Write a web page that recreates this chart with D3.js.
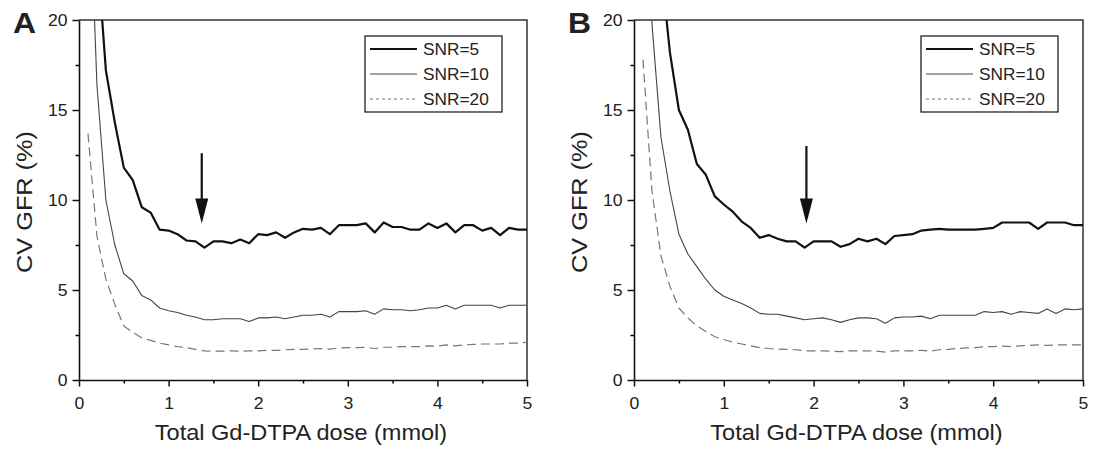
<!DOCTYPE html>
<html>
<head>
<meta charset="utf-8">
<script src="https://cdn.jsdelivr.net/npm/d3@7"></script>
<style>
  body { margin: 0; background: #fff; }
  text { font-family: "Liberation Sans", Arial, sans-serif; fill: #222; }
</style>
</head>
<body>
<script>
// dose grid, 0.1 .. 5.0 mmol
var doses = d3.range(1, 51).map(function(i) { return i / 10; });

var seriesNames = ["SNR=5", "SNR=10", "SNR=20"];
var panelLetters = ["A", "B"];
var xTicks = [0, 1, 2, 3, 4, 5];
var yTicks = [0, 5, 10, 15, 20];

// panel A
var cvA5 = [40, 24, 17.2, 14.3, 11.8, 11.1, 9.6, 9.3, 8.35, 8.3,
            8.1, 7.75, 7.7, 7.35, 7.7, 7.7, 7.6, 7.8, 7.6, 8.1,
            8.05, 8.2, 7.9, 8.2, 8.4, 8.35, 8.45, 8.1, 8.6, 8.6,
            8.6, 8.7, 8.2, 8.75, 8.5, 8.5, 8.35, 8.35, 8.7, 8.45,
            8.7, 8.2, 8.6, 8.6, 8.3, 8.45, 8.05, 8.45, 8.35, 8.35];
var cvA10 = [30, 16.4, 10.0, 7.5, 5.9, 5.5, 4.7, 4.45, 4.0, 3.85,
             3.75, 3.6, 3.5, 3.35, 3.35, 3.4, 3.4, 3.4, 3.25, 3.45,
             3.45, 3.5, 3.4, 3.5, 3.6, 3.6, 3.65, 3.5, 3.8, 3.8,
             3.8, 3.85, 3.65, 3.95, 3.9, 3.9, 3.85, 3.9, 4.0, 4.0,
             4.15, 3.95, 4.15, 4.15, 4.15, 4.15, 4.0, 4.15, 4.15, 4.15];
var cvA20 = [13.7, 8.0, 5.6, 4.2, 3.0, 2.65, 2.35, 2.2, 2.05, 1.95,
             1.85, 1.8, 1.7, 1.62, 1.6, 1.6, 1.62, 1.6, 1.62, 1.62,
             1.65, 1.65, 1.68, 1.7, 1.7, 1.72, 1.75, 1.72, 1.78, 1.8,
             1.8, 1.82, 1.75, 1.82, 1.82, 1.85, 1.85, 1.85, 1.9, 1.88,
             1.95, 1.9, 1.95, 1.98, 2.0, 2.0, 2.0, 2.05, 2.05, 2.1];

// panel B
var cvB5 = [45, 32, 23, 18.2, 15.0, 13.9, 12.0, 11.4, 10.2, 9.75,
            9.35, 8.8, 8.45, 7.9, 8.05, 7.85, 7.7, 7.7, 7.35, 7.7,
            7.7, 7.7, 7.4, 7.55, 7.85, 7.7, 7.85, 7.55, 8.0, 8.05,
            8.1, 8.3, 8.35, 8.4, 8.35, 8.35, 8.35, 8.35, 8.4, 8.45,
            8.75, 8.75, 8.75, 8.75, 8.4, 8.75, 8.75, 8.75, 8.6, 8.6];
var cvB10 = [32, 19.8, 13.5, 10.5, 8.1, 7.0, 6.3, 5.6, 5.0, 4.65,
             4.45, 4.25, 4.0, 3.7, 3.65, 3.65, 3.55, 3.45, 3.35, 3.4,
             3.45, 3.35, 3.2, 3.35, 3.45, 3.45, 3.4, 3.15, 3.45, 3.5,
             3.5, 3.55, 3.4, 3.6, 3.6, 3.6, 3.6, 3.6, 3.8, 3.75,
             3.8, 3.65, 3.8, 3.75, 3.7, 3.95, 3.7, 3.95, 3.9, 3.95];
var cvB20 = [17.8, 10.5, 6.9, 5.2, 4.0, 3.45, 3.0, 2.7, 2.4, 2.25,
             2.1, 2.0, 1.9, 1.8, 1.75, 1.72, 1.7, 1.68, 1.62, 1.62,
             1.62, 1.6, 1.58, 1.62, 1.62, 1.62, 1.6, 1.55, 1.62, 1.62,
             1.62, 1.65, 1.6, 1.68, 1.7, 1.75, 1.78, 1.8, 1.85, 1.85,
             1.88, 1.85, 1.9, 1.92, 1.95, 1.92, 1.95, 1.95, 1.95, 1.95];

// arrows: dose, top, tip
var arrowA = [1.37, 12.6, 8.7];
var arrowB = [1.92, 13.0, 8.7];

var styles = [
  {stroke: "#111", width: 2.2, dash: null, legendDash: null},
  {stroke: "#444", width: 1.1, dash: null, legendDash: null},
  {stroke: "#777", width: 1.2, dash: "9,5", legendDash: "3,3"}
];

var sx = 1.1; // text in the figure is a bit wider than plain Arial

var svg = d3.select("body")
            .append("svg")
              .attr("width", 1095)
              .attr("height", 449);

var defs = svg.append("defs");

function placeText(sel, x, y, k) {
  return sel.attr("transform", "translate(" + x + "," + y + ") scale(" + k + ",1)");
}

function drawPanel(idx, left, right, series, arrow) {
  var top = 20, bottom = 380;

  var x = d3.scaleLinear().domain([0, 5]).range([left, right]);
  var y = d3.scaleLinear().domain([0, 20]).range([bottom, top]);

  var g = svg.append("g");

  defs.append("clipPath")
      .attr("id", "clip" + idx)
    .append("rect")
      .attr("x", left).attr("y", top)
      .attr("width", right - left).attr("height", bottom - top);

  // top and right frame
  g.append("path")
    .attr("d", "M" + left + "," + top + "H" + right + "V" + bottom)
    .attr("fill", "none")
    .attr("stroke", "#333")
    .attr("stroke-width", 1.5);

  // minor ticks
  g.append("g")
    .attr("transform", "translate(0," + bottom + ")")
    .call(d3.axisBottom(x).tickValues([0.5, 1.5, 2.5, 3.5, 4.5]).tickSize(3.5).tickFormat(""))
    .call(function(a) { a.select(".domain").remove(); a.selectAll("line").attr("stroke-width", 1.5); });
  g.append("g")
    .attr("transform", "translate(" + left + ",0)")
    .call(d3.axisLeft(y).tickValues([2.5, 7.5, 12.5, 17.5]).tickSize(3.5).tickFormat(""))
    .call(function(a) { a.select(".domain").remove(); a.selectAll("line").attr("stroke-width", 1.5); });

  var xAxis = g.append("g")
    .attr("transform", "translate(0," + bottom + ")")
    .call(d3.axisBottom(x).tickValues(xTicks).tickFormat(d3.format("d")).tickSize(6.5).tickSizeOuter(0).tickPadding(11));
  var yAxis = g.append("g")
    .attr("transform", "translate(" + left + ",0)")
    .call(d3.axisLeft(y).tickValues(yTicks).tickFormat(d3.format("d")).tickSize(6.5).tickSizeOuter(0).tickPadding(5));

  [xAxis, yAxis].forEach(function(a) {
    a.select(".domain").attr("stroke", "#111").attr("stroke-width", 1.6);
    a.selectAll(".tick line").attr("stroke", "#111").attr("stroke-width", 1.5);
    a.selectAll(".tick text")
      .style("font-family", "'Liberation Sans', Arial, sans-serif")
      .style("font-size", "16px")
      .attr("fill", "#222");
  });
  xAxis.selectAll(".tick text").attr("transform", "scale(" + sx + ",1)");
  yAxis.selectAll(".tick text")
    .attr("x", -11.5 / sx)
    .attr("transform", "scale(" + sx + ",1)");

  placeText(g.append("text"), (left + right) / 2 - 2, 440, 1.07)
    .attr("text-anchor", "middle")
    .style("font-size", "22px")
    .text("Total Gd-DTPA dose (mmol)");

  g.append("text")
    .attr("transform", "translate(" + (left - 47.5) + "," + ((top + bottom) / 2 + 2) + ") rotate(-90) scale(1.15,1)")
    .attr("text-anchor", "middle")
    .style("font-size", "22px")
    .text("CV GFR (%)");

  placeText(g.append("text"), left - 66, 33, sx)
    .style("font-size", "29px")
    .style("font-weight", "bold")
    .attr("fill", "#111")
    .text(panelLetters[idx]);

  var line = d3.line()
    .x(function(d, i) { return x(doses[i]); })
    .y(function(d) { return y(d); });

  var lines = g.append("g").attr("clip-path", "url(#clip" + idx + ")");
  lines.selectAll("path")
    .data(series)
    .enter()
    .append("path")
    .attr("d", line)
    .attr("fill", "none")
    .attr("stroke", function(d, i) { return styles[i].stroke; })
    .attr("stroke-width", function(d, i) { return styles[i].width; })
    .attr("stroke-dasharray", function(d, i) { return styles[i].dash; })
    .attr("stroke-linejoin", "round");

  // arrow
  var ax = x(arrow[0]), ayTop = y(arrow[1]), ayTip = y(arrow[2]);
  g.append("line")
    .attr("x1", ax).attr("x2", ax)
    .attr("y1", ayTop).attr("y2", ayTip - 20)
    .attr("stroke", "#111")
    .attr("stroke-width", 2.2);
  g.append("path")
    .attr("d", "M" + (ax - 6.5) + "," + (ayTip - 25) + "L" + (ax + 6.5) + "," + (ayTip - 25) + "L" + ax + "," + ayTip + "Z")
    .attr("fill", "#111");

  // legend
  var lw = 137, lh = 76;
  var lx = right - 25 - lw, ly = 36;
  var legend = g.append("g").attr("transform", "translate(" + lx + "," + ly + ")");
  legend.append("rect")
    .attr("width", lw).attr("height", lh)
    .attr("fill", "#fff")
    .attr("stroke", "#222")
    .attr("stroke-width", 1.3);
  var rows = legend.selectAll("g.row")
    .data(seriesNames)
    .enter()
    .append("g")
    .attr("class", "row")
    .attr("transform", function(d, i) { return "translate(0," + (13 + i * 25) + ")"; });
  rows.append("line")
    .attr("x1", 5).attr("x2", 52)
    .attr("stroke", function(d, i) { return styles[i].stroke; })
    .attr("stroke-width", function(d, i) { return styles[i].width; })
    .attr("stroke-dasharray", function(d, i) { return styles[i].legendDash; });
  rows.append("text")
    .attr("transform", "translate(58,6) scale(1.08,1)")
    .style("font-size", "16px")
    .text(function(d) { return d; });
}

drawPanel(0, 79, 527, [cvA5, cvA10, cvA20], arrowA);
drawPanel(1, 634, 1083, [cvB5, cvB10, cvB20], arrowB);
</script>
</body>
</html>
